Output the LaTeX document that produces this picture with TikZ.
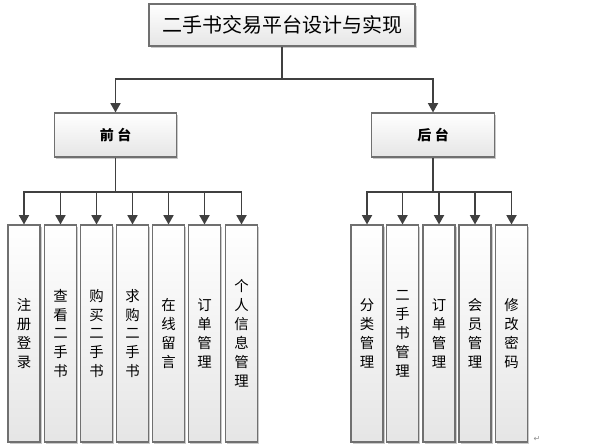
\documentclass[tikz,border=0pt]{standalone}
\usepackage{fontspec}
\setmainfont{Liberation Serif}
\newfontfamily\cjk{Noto Sans CJK SC}
\newfontfamily\djv{DejaVu Sans}
\usetikzlibrary{arrows.meta,shadows}
\definecolor{lineclr}{HTML}{404040}
\definecolor{boxedge}{HTML}{707070}
\tikzset{
  boxbase/.style={draw=boxedge, line width=0.8pt, top color=white, bottom color=black!10,
    drop shadow={shadow xshift=1.2pt, shadow yshift=-1.2pt, fill=black!35, opacity=0.6},
    inner sep=0pt, align=center, text=black},
  titlebox/.style={boxbase, minimum width=199.5pt, minimum height=31.5pt, font=\cjk\fontsize{15}{18}\selectfont},
  midbox/.style={boxbase, minimum width=92pt, minimum height=33pt, font=\cjk\bfseries\fontsize{10.5}{12}\selectfont},
  leafbox/.style={boxbase, minimum width=24pt, minimum height=162.75pt, text width=24pt, font=\cjk\fontsize{10.8}{14.2}\selectfont},
  conn/.style={draw=lineclr, line width=1.3pt},
  arr/.style={conn, -{Triangle[width=7.5pt,length=7pt]}}
}
\begin{document}
\begin{tikzpicture}[x=0.75pt,y=-0.75pt]
\useasboundingbox (0,0) rectangle (598,446);
\node[titlebox] (title) at (282,25) {二手书交易平台设计与实现};
\node[midbox] (front) at (115.5,135) {前\hspace{0.25em}台};
\node[midbox] (back) at (433,135) {后\hspace{0.25em}台};
\coordinate (tb) at (282,79);
\draw[conn] (title.south) -- (tb);
\draw[arr] (tb) -| (front.north);
\draw[arr] (tb) -| (back.north);

\node[leafbox] (f1) at (24,333.5) {注\\册\\登\\录};
\node[leafbox] (f2) at (60.5,333.5) {查\\看\\二\\手\\书};
\node[leafbox] (f3) at (96.5,333.5) {购\\买\\二\\手\\书};
\node[leafbox] (f4) at (132.5,333.5) {求\\购\\二\\手\\书};
\node[leafbox] (f5) at (168.5,333.5) {在\\线\\留\\言};
\node[leafbox] (f6) at (204.5,333.5) {订\\单\\管\\理};
\node[leafbox] (f7) at (241.5,333.5) {个\\人\\信\\息\\管\\理};

\node[leafbox] (b1) at (367,333.5) {分\\类\\管\\理};
\node[leafbox] (b2) at (402.5,333.5) {二\\手\\书\\管\\理};
\node[leafbox] (b3) at (439,333.5) {订\\单\\管\\理};
\node[leafbox] (b4) at (475,333.5) {会\\员\\管\\理};
\node[leafbox] (b5) at (511.5,333.5) {修\\改\\密\\码};

\coordinate (fb) at (115.5,192);
\coordinate (bb) at (433,192);
\draw[conn] (front.south) -- (fb);
\draw[conn] (back.south) -- (bb);
\foreach \c in {f1,f2,f3,f4,f5,f6,f7} \draw[arr] (fb) -| (\c.north);
\foreach \c in {b1,b2,b3,b4,b5} \draw[arr] (bb) -| (\c.north);

\node[font=\djv\fontsize{6}{6}\selectfont, text=black!45, inner sep=0pt] (ret) at (537,439) {↵};
\end{tikzpicture}
\end{document}
